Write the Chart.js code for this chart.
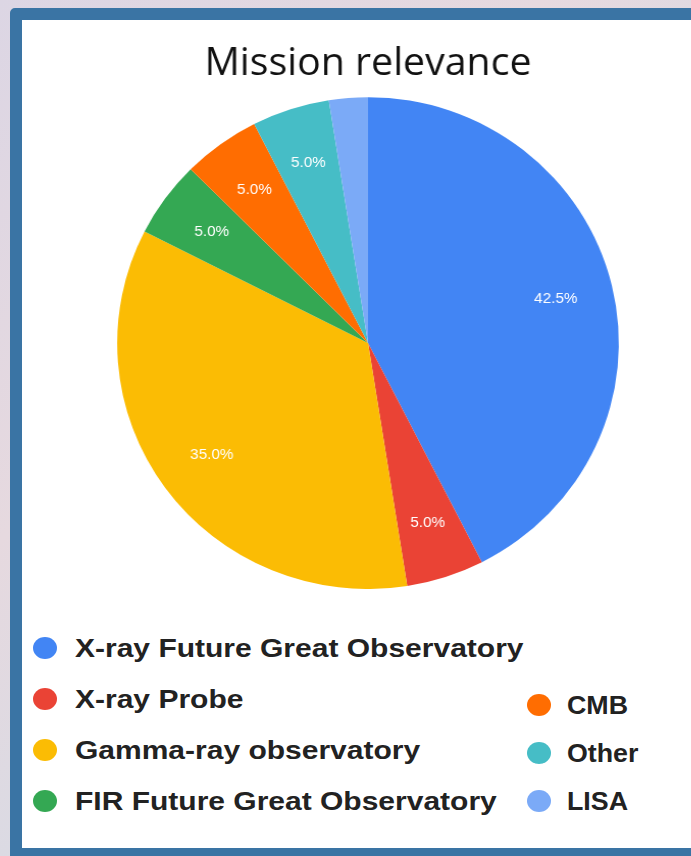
<!DOCTYPE html>
<html>
<head>
<meta charset="utf-8">
<script src="https://cdn.jsdelivr.net/npm/chart.js@4"></script>
<style>
  html, body { margin: 0; padding: 0; }
  body {
    width: 691px; height: 856px; overflow: hidden; position: relative;
    background: linear-gradient(135deg, #dcd6e4 0%, #e6d9df 35%, #d3dbe6 70%, #e2d8d2 100%);
  }
  #frame {
    position: absolute; left: 10px; top: 8px; width: 720px; height: 828px;
    border: 12px solid #3a74a4; border-radius: 5px; background: #fff; overflow: hidden;
  }
  #chartBox { position: absolute; left: 0; top: 0; width: 676px; height: 569px;
    transform: scaleX(1.02); transform-origin: 346px 50%; }
  #legend { position: absolute; left: 0; top: 0; font-family: "Liberation Sans", Arial, sans-serif;
    font-weight: bold; color: #222; }
  .item { position: absolute; white-space: nowrap; line-height: 30px; transform-origin: 0 50%; }
  .dot { position: absolute; width: 24px; height: 22px; border-radius: 50%; }
</style>
</head>
<body>
<div id="frame">
  <div id="chartBox"><canvas id="grafico"></canvas></div>
</div>
<div id="legend"></div>
<script>
const categorias = ['X-ray Future Great Observatory', 'X-ray Probe', 'Gamma-ray observatory',
  'FIR Future Great Observatory', 'CMB', 'Other', 'LISA'];
const percentuais = [42.5, 5.0, 35.0, 5.0, 5.0, 5.0, 2.5];
const cores = ['#4285f4', '#ea4335', '#fbbc04', '#34a853', '#ff6d01', '#46bdc6', '#7baaf7'];

// legenda em duas colunas: [centro x da bolinha, inicio do texto, centro y, tamanho, escala]
const legendaPos = [
  [45, 75, 648, 25, 1.2], [45, 75, 699, 25, 1.2], [45, 75, 750, 25, 1.2], [45, 75, 801, 25, 1.2],
  [539, 567, 705, 26, 1.03], [539, 567, 753, 26, 1.03], [539, 567, 801, 26, 1.03]
];

const legenda = document.getElementById('legend');
categorias.forEach(function (nome, i) {
  const p = legendaPos[i];
  const dot = document.createElement('span');
  dot.className = 'dot';
  dot.style.left = (p[0] - 12) + 'px';
  dot.style.top = (p[2] - 11) + 'px';
  dot.style.background = cores[i];
  legenda.appendChild(dot);
  const item = document.createElement('div');
  item.className = 'item';
  item.style.left = p[1] + 'px';
  item.style.top = (p[2] - 15) + 'px';
  item.style.fontSize = p[3] + 'px';
  item.style.transform = 'scaleX(' + p[4] + ')';
  item.textContent = nome;
  legenda.appendChild(item);
});

// rotulos de porcentagem dentro das fatias
const rotulosFatias = {
  id: 'rotulosFatias',
  afterDatasetsDraw(chart) {
    const ctx = chart.ctx;
    const meta = chart.getDatasetMeta(0);
    ctx.save();
    ctx.fillStyle = '#fff';
    ctx.font = '15px "Liberation Sans", Arial, sans-serif';
    ctx.textAlign = 'center';
    ctx.textBaseline = 'middle';
    meta.data.forEach(function (arc, i) {
      const v = percentuais[i];
      if (v < 5) return;
      const p = arc.getProps(['x', 'y', 'startAngle', 'endAngle', 'outerRadius'], true);
      const a = (p.startAngle + p.endAngle) / 2;
      const r = p.outerRadius * 0.77;
      ctx.fillText(v.toFixed(1) + '%', p.x + Math.cos(a) * r, p.y + Math.sin(a) * r);
    });
    ctx.restore();
  }
};

new Chart(document.getElementById('grafico'), {
  type: 'pie',
  data: {
    labels: categorias,
    datasets: [{
      data: percentuais,
      backgroundColor: cores,
      borderWidth: 0
    }]
  },
  options: {
    responsive: true,
    maintainAspectRatio: false,
    animation: false,
    layout: { padding: { left: 16 } },
    plugins: {
      legend: { display: false },
      tooltip: { enabled: false },
      title: {
        display: true,
        text: 'Mission relevance',
        color: '#111',
        font: { family: '"Open Sans", sans-serif', size: 38.5, weight: 'normal', lineHeight: 1.2 },
        padding: { top: 21, bottom: 10 }
      }
    }
  },
  plugins: [rotulosFatias]
});
</script>
</body>
</html>
